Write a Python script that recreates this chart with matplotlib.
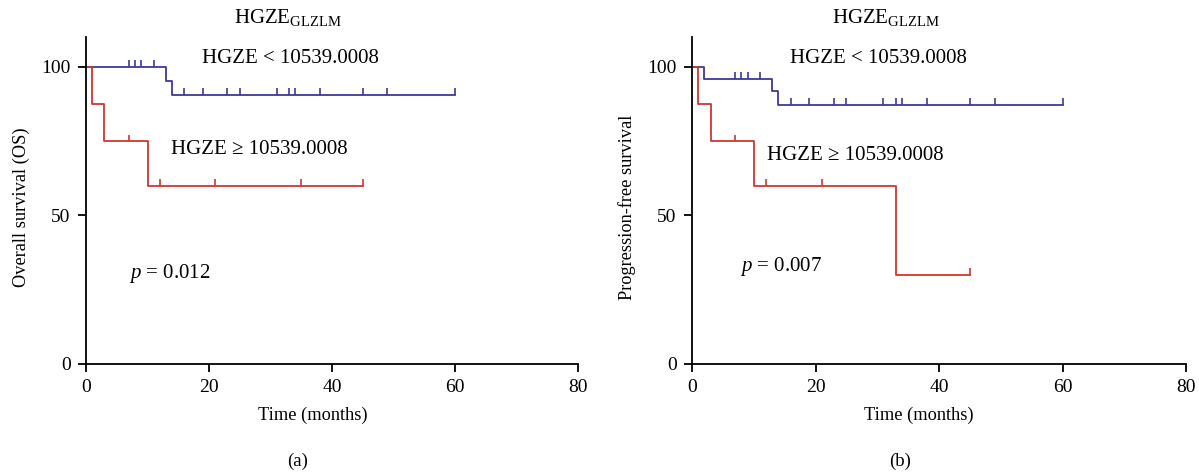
import matplotlib
matplotlib.use("Agg")
import matplotlib.pyplot as plt
import numpy as np

plt.rcParams['font.family'] = ['Liberation Serif', 'DejaVu Serif']
plt.rcParams['mathtext.fontset'] = 'custom'
plt.rcParams['mathtext.rm'] = 'Liberation Serif'
plt.rcParams['mathtext.it'] = 'Liberation Serif:italic'

BLUE = '#3c3a9c'
RED = '#d0372c'

# (a) overall survival
os_low_t = [0, 13, 14]
os_low_s = [100, 95.2, 90.5]
os_low_end = 60
os_low_cens = [7, 8, 9, 11, 16, 19, 23, 25, 31, 33, 34, 38, 45, 49, 60]

os_high_t = [0, 1, 3, 10]
os_high_s = [100, 87.5, 75, 60]
os_high_end = 45
os_high_cens = [7, 12, 21, 35, 45]

# (b) progression-free survival
pfs_low_t = [0, 2, 13, 14]
pfs_low_s = [100, 96, 91.7, 87.2]
pfs_low_end = 60
pfs_low_cens = [7, 8, 9, 11, 16, 19, 23, 25, 31, 33, 34, 38, 45, 49, 60]

pfs_high_t = [0, 1, 3, 10, 33]
pfs_high_s = [100, 87.5, 75, 60, 30]
pfs_high_end = 45
pfs_high_cens = [7, 12, 21, 45]

x_ticks = [0, 20, 40, 60, 80]
y_ticks = [0, 50, 100]


def km_curve(ax, t, s, end, cens, color):
    xs = list(t) + [end]
    ys = list(s) + [s[-1]]
    ax.step(xs, ys, where='post', color=color, lw=1.3, clip_on=False)
    # censor marks: short vertical strokes above the curve
    cs = [s[np.searchsorted(t, c, side='right') - 1] for c in cens]
    ax.vlines(cens, cs, np.array(cs) + 2.2, color=color, lw=1.2, clip_on=False)


def style_axis(ax, ylabel):
    ax.set_xlim(0, 80)
    ax.set_ylim(0, 110)
    ax.set_xticks(x_ticks)
    ax.set_yticks(y_ticks)
    for side in ['top', 'right']:
        ax.spines[side].set_visible(False)
    for side in ['left', 'bottom']:
        ax.spines[side].set_linewidth(1.3)
    ax.tick_params(direction='out', length=6, width=1.3, labelsize=14, pad=5)
    ax.set_xlabel('Time (months)', fontsize=13.2)
    ax.set_ylabel(ylabel, fontsize=13.2)


fig = plt.figure(figsize=(11.99, 4.72), dpi=100)
W, H = 1199, 472
ax1 = fig.add_axes([86 / W, 1 - 364 / H, 492 / W, 327 / H])
ax2 = fig.add_axes([692 / W, 1 - 364 / H, 494 / W, 327 / H])

km_curve(ax1, os_low_t, os_low_s, os_low_end, os_low_cens, BLUE)
km_curve(ax1, os_high_t, os_high_s, os_high_end, os_high_cens, RED)
style_axis(ax1, 'Overall survival (OS)')
ax1.text(18.8, 102.7, 'HGZE < 10539.0008', fontsize=15, va='center')
ax1.text(13.9, 72, 'HGZE \u2265 10539.0008', fontsize=15, va='center')
ax1.text(7.0, 30.4, '$p$ = 0.012', fontsize=15, va='center')

km_curve(ax2, pfs_low_t, pfs_low_s, pfs_low_end, pfs_low_cens, BLUE)
km_curve(ax2, pfs_high_t, pfs_high_s, pfs_high_end, pfs_high_cens, RED)
style_axis(ax2, 'Progression-free survival')
ax2.text(15.8, 102.7, 'HGZE < 10539.0008', fontsize=15, va='center')
ax2.text(12.2, 70, 'HGZE \u2265 10539.0008', fontsize=15, va='center')
ax2.text(7.8, 32.8, '$p$ = 0.007', fontsize=15, va='center')

for ax in (ax1, ax2):
    ax.xaxis.set_label_coords(0.46, -0.13)
    ax.yaxis.set_label_coords(-0.113, 0.48)

fig.text(288 / W, 1 - 18 / H, 'HGZE$_{\\mathrm{GLZLM}}$', fontsize=15, ha='center', va='center')
fig.text(886 / W, 1 - 18 / H, 'HGZE$_{\\mathrm{GLZLM}}$', fontsize=15, ha='center', va='center')
fig.text(298 / W, 1 - 461 / H, '(a)', fontsize=13.5, ha='center', va='center')
fig.text(900 / W, 1 - 461 / H, '(b)', fontsize=13.5, ha='center', va='center')

fig.savefig('out.png', dpi=100)
